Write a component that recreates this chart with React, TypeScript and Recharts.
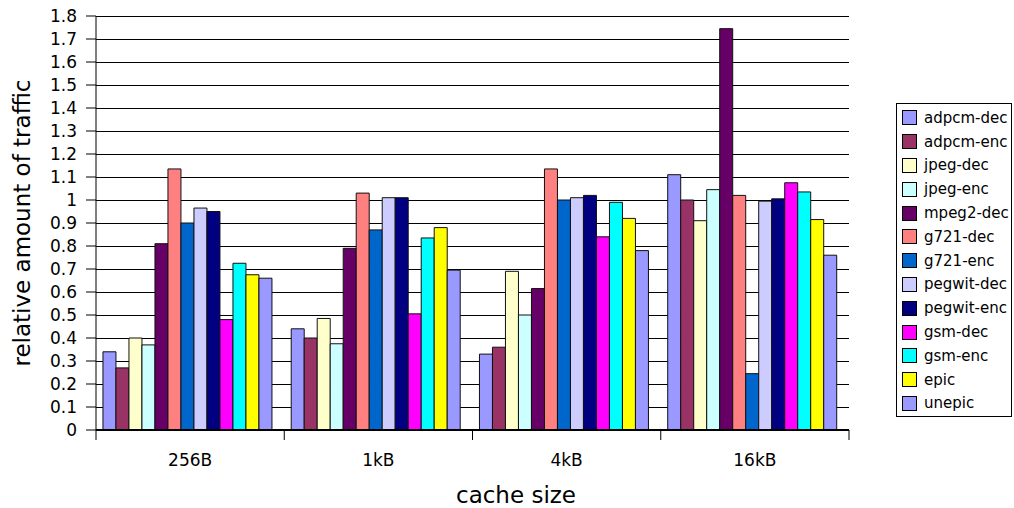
import { Bar, BarChart, CartesianGrid, Label, Legend, XAxis, YAxis } from "recharts";

const FONT = "'DejaVu Sans', Verdana, sans-serif";

// chart geometry
const WIDTH = 1014;
const HEIGHT = 508;
const PLOT_LEFT = 96;
const PLOT_RIGHT = 849;

const cacheSizes = ["256B", "1kB", "4kB", "16kB"];

const benchmarks = [
  "adpcm-dec",
  "adpcm-enc",
  "jpeg-dec",
  "jpeg-enc",
  "mpeg2-dec",
  "g721-dec",
  "g721-enc",
  "pegwit-dec",
  "pegwit-enc",
  "gsm-dec",
  "gsm-enc",
  "epic",
  "unepic",
];

// relative traffic per benchmark, one value per cache size
const adpcmDec = [0.34, 0.44, 0.33, 1.11];
const adpcmEnc = [0.27, 0.4, 0.36, 1.0];
const jpegDec = [0.4, 0.485, 0.69, 0.91];
const jpegEnc = [0.37, 0.375, 0.5, 1.045];
const mpeg2Dec = [0.81, 0.79, 0.615, 1.745];
const g721Dec = [1.135, 1.03, 1.135, 1.02];
const g721Enc = [0.9, 0.87, 1.0, 0.245];
const pegwitDec = [0.965, 1.01, 1.01, 0.995];
const pegwitEnc = [0.95, 1.01, 1.02, 1.005];
const gsmDec = [0.48, 0.505, 0.84, 1.075];
const gsmEnc = [0.725, 0.835, 0.99, 1.035];
const epic = [0.675, 0.88, 0.92, 0.915];
const unepic = [0.66, 0.695, 0.78, 0.76];

const seriesValues = [
  adpcmDec,
  adpcmEnc,
  jpegDec,
  jpegEnc,
  mpeg2Dec,
  g721Dec,
  g721Enc,
  pegwitDec,
  pegwitEnc,
  gsmDec,
  gsmEnc,
  epic,
  unepic,
];

const seriesColors = [
  "#9999ff",
  "#993366",
  "#ffffcc",
  "#ccffff",
  "#660066",
  "#ff8080",
  "#0066cc",
  "#ccccff",
  "#000080",
  "#ff00ff",
  "#00ffff",
  "#ffff00",
  "#9999ff",
];

const yTicks = [0, 0.1, 0.2, 0.3, 0.4, 0.5, 0.6, 0.7, 0.8, 0.9, 1, 1.1, 1.2, 1.3, 1.4, 1.5, 1.6, 1.7, 1.8];

const data = cacheSizes.map((size, i) => {
  const row: Record<string, string | number> = { size };
  benchmarks.forEach((name, s) => {
    row[name] = seriesValues[s][i];
  });
  return row;
});

// category label with separator ticks on the band edges
function CacheTick(props: any) {
  const { x, y, payload, index } = props;
  const band = (PLOT_RIGHT - PLOT_LEFT) / cacheSizes.length;
  const left = x - band / 2;
  const isLast = index === cacheSizes.length - 1;
  return (
    <g>
      <line x1={left} x2={left} y1={y} y2={y + 10} stroke="#000" />
      {isLast && <line x1={left + band} x2={left + band} y1={y} y2={y + 10} stroke="#000" />}
      <text x={x} y={y + 36} textAnchor="middle" fontSize={17} fontFamily={FONT} fill="#000">
        {payload.value}
      </text>
    </g>
  );
}

function LegendBox({ payload }: any) {
  // keep the series order instead of the alphabetical one
  const items = [...(payload || [])].sort(
    (a: any, b: any) => benchmarks.indexOf(a.value) - benchmarks.indexOf(b.value)
  );
  return (
    <div
      style={{
        border: "1px solid #000",
        background: "#fff",
        boxSizing: "border-box",
        width: 116,
        height: 314,
        padding: "2px 0 0 5px",
        fontFamily: FONT,
        fontSize: 15,
        color: "#000",
      }}
    >
      {items.map((entry: any) => (
        <div key={entry.value} style={{ display: "flex", alignItems: "center", height: 23.8 }}>
          <span
            style={{
              display: "inline-block",
              width: 15,
              height: 15,
              boxSizing: "border-box",
              border: "1px solid #000",
              background: entry.color,
              marginRight: 7,
            }}
          />
          <span>{entry.value}</span>
        </div>
      ))}
    </div>
  );
}

export default function App() {
  return (
    <div style={{ position: "absolute", left: 0, top: 0 }}>
      <BarChart
        width={WIDTH}
        height={HEIGHT}
        data={data}
        margin={{ top: 16, right: WIDTH - PLOT_RIGHT, bottom: 48, left: PLOT_LEFT - 60 }}
        barCategoryGap="3.7%"
        barGap={0}
      >
        <CartesianGrid horizontal vertical={false} stroke="#000" shapeRendering="crispEdges" />
        <XAxis
          dataKey="size"
          height={30}
          axisLine={{ stroke: "#000", strokeWidth: 2 }}
          tickLine={false}
          tickSize={0}
          tickMargin={0}
          tick={<CacheTick />}
          interval={0}
        >
          <Label
            content={() => (
              <text x={516} y={503} textAnchor="middle" fontSize={23} fontFamily={FONT} fill="#000">
                cache size
              </text>
            )}
          />
        </XAxis>
        <YAxis
          width={60}
          domain={[0, 1.8]}
          ticks={yTicks}
          interval={0}
          axisLine={{ stroke: "#000" }}
          tickLine={{ stroke: "#000" }}
          tickSize={10}
          tickMargin={9}
          tick={{ fontSize: 17, fill: "#000", fontFamily: FONT }}
        >
          <Label
            content={() => (
              <text
                transform="translate(30,223) rotate(-90)"
                textAnchor="middle"
                fontSize={23}
                fontFamily={FONT}
                fill="#000"
              >
                relative amount of traffic
              </text>
            )}
          />
        </YAxis>
        <Legend
          layout="vertical"
          align="center"
          verticalAlign="middle"
          wrapperStyle={{ left: 896, top: 103, width: 116, height: 314 }}
          content={<LegendBox />}
        />
        {benchmarks.map((name, s) => (
          <Bar
            key={name}
            dataKey={name}
            name={name}
            fill={seriesColors[s]}
            stroke="#111"
            strokeWidth={1}
            isAnimationActive={false}
          />
        ))}
      </BarChart>
    </div>
  );
}
